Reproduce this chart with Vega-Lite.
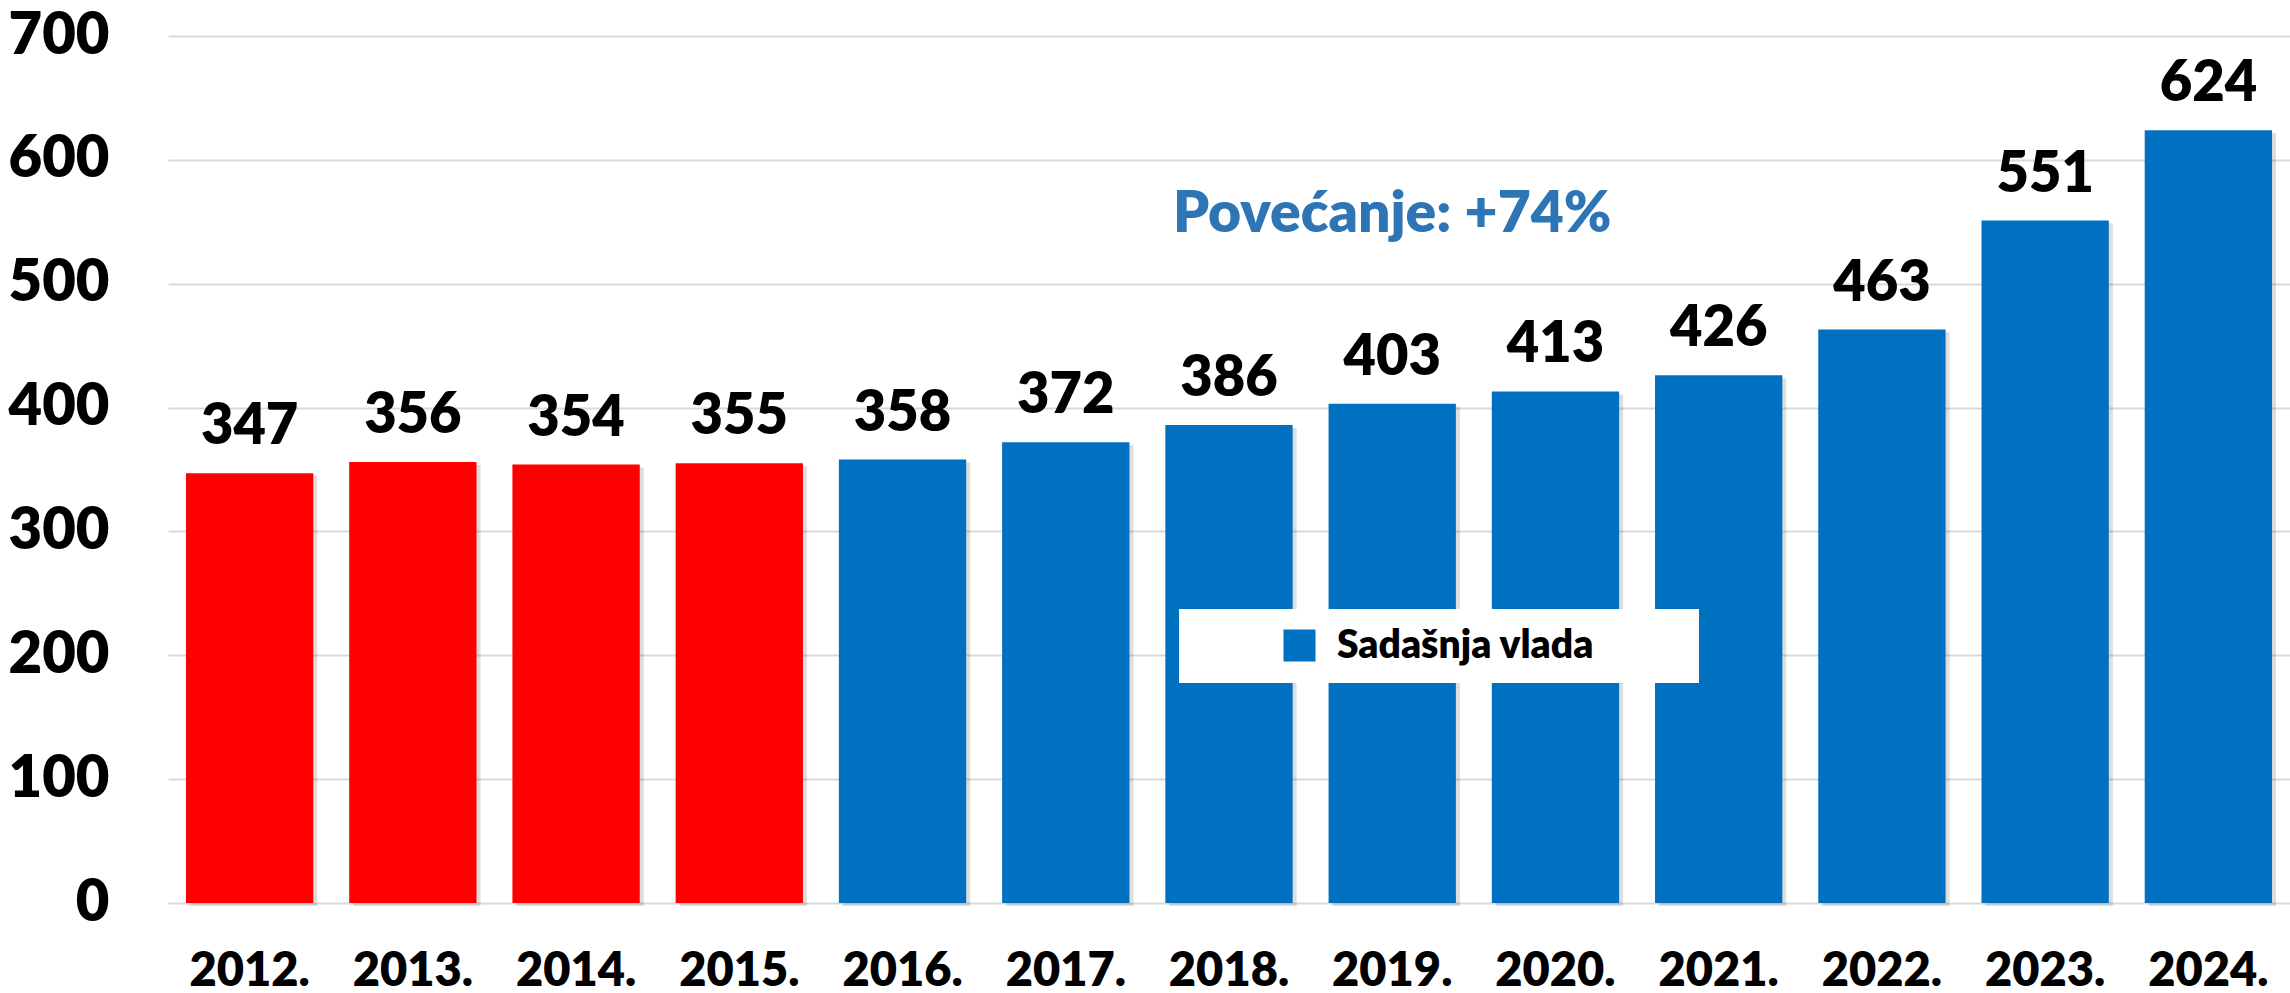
{
  "$schema": "https://vega.github.io/schema/vega-lite/v6.json",
  "width": 2122,
  "height": 867,
  "autosize": {"type": "none"},
  "padding": {"left": 168, "top": 36, "right": 0, "bottom": 90},
  "background": "white",
  "config": {
    "font": "Lato",
    "view": {"stroke": null},
    "axis": {"labelFont": "Lato", "labelFontWeight": 800, "labelColor": "#000000"}
  },
  "data": {
    "values": [
      {"year": "2012.", "value": 347, "vlada": "Prethodna vlada"},
      {"year": "2013.", "value": 356, "vlada": "Prethodna vlada"},
      {"year": "2014.", "value": 354, "vlada": "Prethodna vlada"},
      {"year": "2015.", "value": 355, "vlada": "Prethodna vlada"},
      {"year": "2016.", "value": 358, "vlada": "Sadašnja vlada"},
      {"year": "2017.", "value": 372, "vlada": "Sadašnja vlada"},
      {"year": "2018.", "value": 386, "vlada": "Sadašnja vlada"},
      {"year": "2019.", "value": 403, "vlada": "Sadašnja vlada"},
      {"year": "2020.", "value": 413, "vlada": "Sadašnja vlada"},
      {"year": "2021.", "value": 426, "vlada": "Sadašnja vlada"},
      {"year": "2022.", "value": 463, "vlada": "Sadašnja vlada"},
      {"year": "2023.", "value": 551, "vlada": "Sadašnja vlada"},
      {"year": "2024.", "value": 624, "vlada": "Sadašnja vlada"}
    ]
  },
  "encoding": {
    "x": {
      "field": "year",
      "type": "ordinal",
      "sort": null,
      "scale": {"paddingInner": 0.22, "paddingOuter": 0.11},
      "axis": {
        "title": null,
        "labelAngle": 0,
        "labelFontSize": 47,
        "labelPadding": 45,
        "domain": false,
        "ticks": false,
        "grid": false
      }
    },
    "y": {
      "field": "value",
      "type": "quantitative",
      "scale": {"domain": [0, 700]},
      "axis": {
        "title": null,
        "values": [0, 100, 200, 300, 400, 500, 600, 700],
        "labelFontSize": 58,
        "labelPadding": 59,
        "domain": false,
        "ticks": false,
        "gridColor": "#D9D9D9",
        "gridWidth": 2
      }
    }
  },
  "layer": [
    {
      "mark": {"type": "bar", "color": "#000000", "opacity": 0.13, "xOffset": 4, "yOffset": 3}
    },
    {
      "mark": {"type": "bar"},
      "encoding": {
        "color": {
          "field": "vlada",
          "type": "nominal",
          "scale": {"domain": ["Prethodna vlada", "Sadašnja vlada"], "range": ["#FF0000", "#0070C0"]},
          "legend": {
            "values": ["Sadašnja vlada"],
            "title": null,
            "orient": "none",
            "legendX": 1011,
            "legendY": 573,
            "fillColor": "white",
            "padding": 17,
            "symbolType": "square",
            "symbolSize": 1024,
            "symbolStrokeWidth": 0,
            "symbolOffset": 84,
            "labelOffset": 18,
            "labelLimit": 1000,
            "labelFontSize": 39,
            "labelFont": "Lato",
            "labelFontWeight": 800,
            "labelColor": "#000000",
            "labelExpr": "datum.label + '\u2800\u2800\u2800'"
          }
        }
      }
    },
    {
      "mark": {"type": "text", "fontSize": 56, "fontWeight": 800, "color": "#000000", "baseline": "alphabetic", "dy": -29},
      "encoding": {"text": {"field": "value", "type": "quantitative"}}
    },
    {
      "transform": [{"filter": "datum.year === '2019.'"}],
      "mark": {"type": "text", "fontSize": 57, "fontWeight": 800, "color": "#2E75B6", "baseline": "alphabetic", "align": "center"},
      "encoding": {
        "y": {"datum": 542},
        "text": {"value": "Povećanje: +74%"}
      }
    }
  ]
}
